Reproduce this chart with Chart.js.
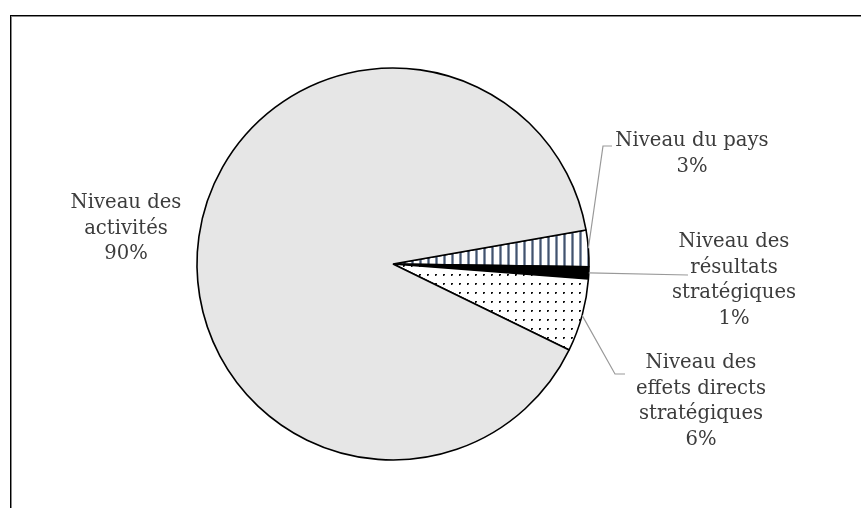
<!DOCTYPE html>
<html>
<head>
<meta charset="utf-8">
<script src="https://cdn.jsdelivr.net/npm/chart.js@4"></script>
<style>
  html, body { margin: 0; padding: 0; background: #fff; }
  #wrap { position: relative; width: 861px; height: 508px; overflow: hidden; }
  #frame {
    position: absolute; left: 10px; top: 15px; width: 900px; height: 600px;
    border-top: 1px solid #000; border-left: 1px solid #000;
    box-shadow: inset 1px 1px 0 #888;
  }
  #pie { position: absolute; left: 0; top: 0; }
</style>
</head>
<body>
<div id="wrap">
  <div id="frame"></div>
  <canvas id="pie" width="861" height="508"></canvas>
</div>
<script>
// slice data, clockwise from the stripes slice
const categories = [
  ["Niveau du pays"],
  ["Niveau des", "résultats", "stratégiques"],
  ["Niveau des", "effets directs", "stratégiques"],
  ["Niveau des", "activités"]
];
const shares = [3, 1, 6, 90];

// where each label block sits (centre x, first line y) and its leader path
const labelPos = [
  { x: 692, y: 141, leader: [[603, 146], [612, 146]] },
  { x: 734, y: 242, leader: [[688, 275]] },
  { x: 701, y: 363, leader: [[615, 374], [625, 374]] },
  { x: 126, y: 203, leader: null }
];

const FONT = '19.6px "DejaVu Serif"';
const LINE_H = 25.7;

// hatch fills
function stripes() {
  const c = document.createElement("canvas");
  c.width = 8; c.height = 8;
  const g = c.getContext("2d");
  g.fillStyle = "#fff";
  g.fillRect(0, 0, 8, 8);
  g.fillStyle = "#8593a8";
  g.fillRect(3, 0, 3, 8);
  g.fillStyle = "#44536c";
  g.fillRect(4, 0, 1, 8);
  return g.createPattern(c, "repeat");
}

function dots() {
  const c = document.createElement("canvas");
  c.width = 8; c.height = 9;
  const g = c.getContext("2d");
  g.fillStyle = "#fff";
  g.fillRect(0, 0, 8, 9);
  g.fillStyle = "#888";
  g.fillRect(3, 4, 2, 2);
  g.fillStyle = "#111";
  g.fillRect(3, 4, 2, 1);
  g.fillRect(3, 5, 1, 1);
  return g.createPattern(c, "repeat");
}

// draws the outside labels and their leader lines
const pieLabels = {
  id: "pieLabels",
  afterDraw(chart) {
    const ctx = chart.ctx;
    const arcs = chart.getDatasetMeta(0).data;
    ctx.save();
    arcs.forEach((arc, i) => {
      const p = labelPos[i];
      if (p.leader) {
        const mid = (arc.startAngle + arc.endAngle) / 2;
        const r = arc.outerRadius;
        ctx.beginPath();
        ctx.moveTo(arc.x + Math.cos(mid) * r, arc.y + Math.sin(mid) * r);
        p.leader.forEach(pt => ctx.lineTo(pt[0], pt[1]));
        ctx.strokeStyle = "#999";
        ctx.lineWidth = 1.2;
        ctx.stroke();
      }
      const lines = categories[i].concat([shares[i] + "%"]);
      ctx.font = FONT;
      ctx.fillStyle = "#3c3c3c";
      ctx.textAlign = "center";
      ctx.textBaseline = "middle";
      lines.forEach((t, k) => ctx.fillText(t, p.x, p.y + k * LINE_H));
    });
    ctx.restore();
  }
};

new Chart(document.getElementById("pie"), {
  type: "pie",
  data: {
    labels: categories.map(l => l.join(" ")),
    datasets: [{
      data: shares,
      backgroundColor: [stripes(), "#000", dots(), "#e6e6e6"],
      borderColor: "#000",
      borderWidth: 1.6
    }]
  },
  options: {
    responsive: false,
    animation: false,
    rotation: 80,
    radius: 196,
    layout: { padding: { left: 0, right: 75, top: 20, bottom: 0 } },
    plugins: { legend: { display: false }, tooltip: { enabled: false } }
  },
  plugins: [pieLabels]
});
</script>
</body>
</html>
